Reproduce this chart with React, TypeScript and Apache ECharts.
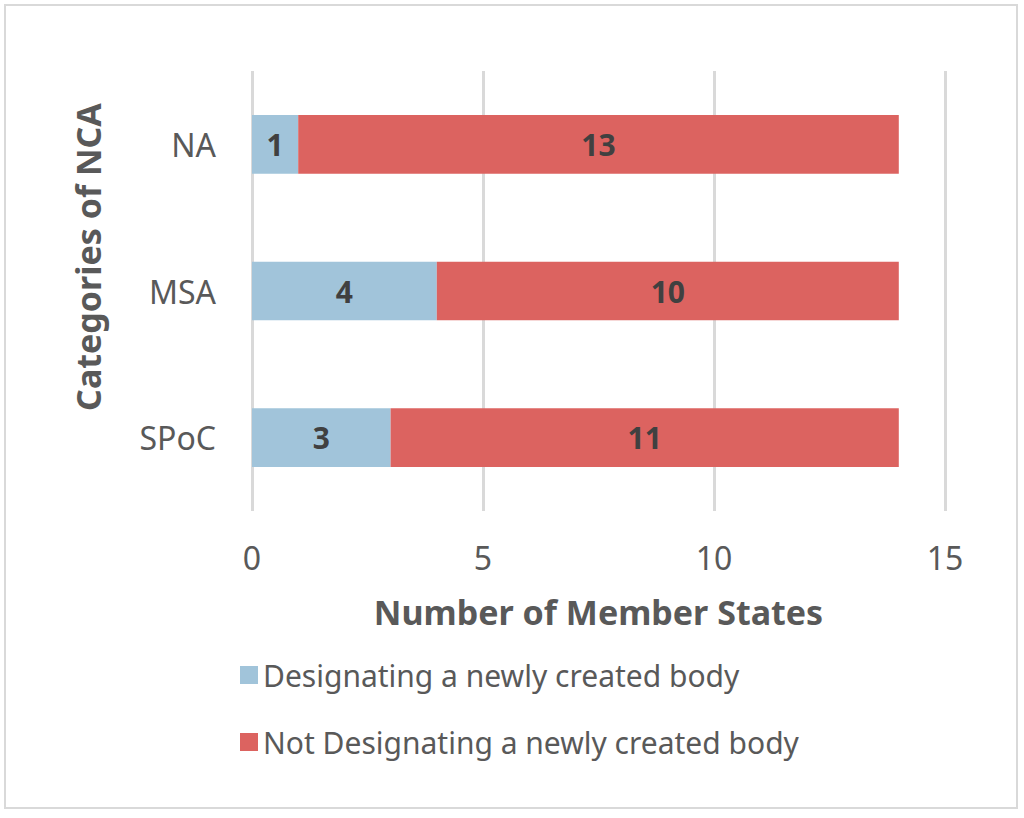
import React, { useEffect, useRef } from "react";
import * as echarts from "echarts";

const categories = ["SPoC", "MSA", "NA"];
const designating = [3, 4, 1];
const notDesignating = [11, 10, 13];
const xTicks = [0, 5, 10, 15];
const seriesNames = ["Designating a newly created body", "Not Designating a newly created body"];
const xTitle = "Number of Member States";
const yTitle = "Categories of NCA";

const FONT = "'Noto Sans', sans-serif";
const TEXT = "#595959";

export default function App() {
  const ref = useRef<HTMLDivElement>(null);
  useEffect(() => {
    const chart = echarts.init(ref.current!, null, { renderer: "svg" });
    const barLabel = {
      show: true,
      position: "inside",
      fontSize: 30,
      fontWeight: "bold",
      color: "#404040",
      fontFamily: FONT,
    };
    chart.setOption({
      animation: false,
      backgroundColor: "#ffffff",
      textStyle: { fontFamily: FONT },
      graphic: [
        {
          type: "rect",
          shape: { x: 5, y: 5, width: 1012, height: 803 },
          style: { fill: "none", stroke: "#d9d9d9", lineWidth: 2 },
          silent: true,
        },
        {
          type: "text",
          x: 88,
          y: 257,
          rotation: Math.PI / 2,
          silent: true,
          style: {
            text: yTitle,
            fontSize: 34,
            fontWeight: "bold",
            fill: TEXT,
            fontFamily: FONT,
            align: "center",
            verticalAlign: "middle",
          },
        },
      ],
      grid: { left: 252, right: 79, top: 71, height: 440 },
      legend: {
        orient: "vertical",
        left: 235,
        top: 655,
        itemWidth: 18,
        itemHeight: 18,
        itemGap: 37,
        icon: "rect",
        textStyle: { fontSize: 30, color: TEXT, fontFamily: FONT },
        data: seriesNames,
      },
      xAxis: {
        type: "value",
        min: xTicks[0],
        max: xTicks[xTicks.length - 1],
        interval: 5,
        name: xTitle,
        nameLocation: "middle",
        nameGap: 84,
        nameTextStyle: { fontSize: 34, fontWeight: "bold", color: TEXT, fontFamily: FONT },
        axisLine: { show: false },
        axisTick: { show: false },
        axisLabel: { fontSize: 32, color: TEXT, margin: 30, fontFamily: FONT },
        splitLine: { lineStyle: { color: "#d9d9d9", width: 3 } },
      },
      yAxis: {
        type: "category",
        data: categories,
        axisLine: { show: false },
        axisTick: { show: false },
        axisLabel: { fontSize: 32, color: TEXT, margin: 36, fontFamily: FONT },
      },
      series: [
        {
          name: seriesNames[0],
          type: "bar",
          stack: "total",
          data: designating,
          barCategoryGap: "60%",
          itemStyle: { color: "#a1c4da" },
          label: barLabel,
        },
        {
          name: seriesNames[1],
          type: "bar",
          stack: "total",
          data: notDesignating,
          barCategoryGap: "60%",
          itemStyle: { color: "#dc6360" },
          label: barLabel,
        },
      ],
    });
    return () => chart.dispose();
  }, []);
  return (
    <div
      ref={ref}
      style={{ position: "fixed", left: 0, top: 0, width: 1024, height: 818 }}
    />
  );
}
